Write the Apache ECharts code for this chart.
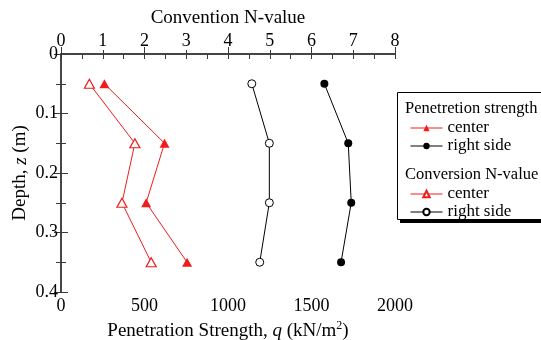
<!DOCTYPE html>
<html>
<head>
<meta charset="utf-8">
<script src="https://cdn.jsdelivr.net/npm/echarts@6/dist/echarts.min.js"></script>
<style>
  html, body { margin: 0; padding: 0; background: #fff; }
  #chart { width: 541px; height: 340px; }
</style>
</head>
<body>
<div id="chart"></div>
<script>
// Depth of each measurement (m)
const depths = [0.05, 0.15, 0.25, 0.35];

// Penetration strength q (kN/m2), bottom axis
const strengthCenter = [260, 620, 510, 755];
const strengthRight = [1577, 1720, 1738, 1677];

// Converted N-value, top axis
const nValueCenter = [0.68, 1.77, 1.46, 2.16];
const nValueRight = [4.57, 4.99, 4.99, 4.76];

// Axis ticks
const depthTicks = [0, 0.1, 0.2, 0.3, 0.4];
const strengthTicks = [0, 500, 1000, 1500, 2000];
const nTicks = [0, 1, 2, 3, 4, 5, 6, 7, 8];

const RED = '#f01c1c';
const FONT = '"Liberation Serif", "Times New Roman", serif';

function pairs(xs) {
  return xs.map((x, i) => [x, depths[i]]);
}

const chart = echarts.init(document.getElementById('chart'), null, { renderer: 'canvas' });

const axisLine = { show: true, lineStyle: { color: '#3a3a3a', width: 1.5 } };
const labelStyle = { color: '#000', fontFamily: FONT, fontSize: 18 };
const plain = v => String(Math.round(v * 100) / 100);

const legendBase = {
  orient: 'vertical', left: 405,
  itemWidth: 32, itemHeight: 8, itemGap: 0,
  formatter: name => name.slice(3),
  textStyle: { fontFamily: FONT, fontSize: 17, color: '#000', lineHeight: 18 },
  lineStyle: { width: 1 },
  selectedMode: false
};

const option = {
  backgroundColor: '#fff',
  animation: false,
  grid: { left: 61, right: 146, top: 54, bottom: 48, containLabel: false, outerBoundsMode: 'none' },
  xAxis: [
    {
      type: 'value', position: 'bottom',
      min: strengthTicks[0], max: strengthTicks[strengthTicks.length - 1], interval: 500,
      axisLine: axisLine,
      axisTick: { show: true, inside: true, length: 7, lineStyle: { color: '#3a3a3a' } },
      minorTick: { show: true, splitNumber: 2, length: 4, lineStyle: { color: '#3a3a3a' } },
      splitLine: { show: false },
      axisLabel: Object.assign({ margin: 5, formatter: plain }, labelStyle),
      name: '{a|Penetration Strength, }{i|q}{a| (kN/m}{s|2}{a|)}',
      nameLocation: 'middle', nameGap: 27,
      nameTextStyle: {
        rich: {
          a: { fontFamily: FONT, fontSize: 19, color: '#000', lineHeight: 22 },
          i: { fontFamily: FONT, fontSize: 19, color: '#000', fontStyle: 'italic', lineHeight: 22 },
          s: { fontFamily: FONT, fontSize: 12, color: '#000', lineHeight: 12, verticalAlign: 'top' }
        }
      }
    },
    {
      type: 'value', position: 'top',
      min: nTicks[0], max: nTicks[nTicks.length - 1], interval: 1,
      axisLine: axisLine,
      axisTick: { show: true, inside: true, length: 5, lineStyle: { color: '#3a3a3a' } },
      minorTick: { show: true, splitNumber: 2, length: 5, lineStyle: { color: '#3a3a3a' } },
      splitLine: { show: false },
      axisLabel: Object.assign({ margin: 4, formatter: plain }, labelStyle),
      name: 'Convention N-value',
      nameLocation: 'middle', nameGap: 23,
      nameTextStyle: { fontFamily: FONT, fontSize: 19, color: '#000' }
    }
  ],
  yAxis: [
    {
      type: 'value', inverse: true, position: 'left',
      min: depthTicks[0], max: depthTicks[depthTicks.length - 1], interval: 0.1,
      axisLine: axisLine,
      axisTick: { show: true, inside: true, length: 7, lineStyle: { color: '#3a3a3a' } },
      minorTick: { show: true, splitNumber: 2, length: 5, lineStyle: { color: '#3a3a3a' } },
      splitLine: { show: false },
      axisLabel: Object.assign({ margin: 3, formatter: plain }, labelStyle),
      name: '{a|Depth, }{i|z}{a| (m)}',
      nameLocation: 'middle', nameGap: 31, nameRotate: 90, nameMoveOverlap: false,
      nameTextStyle: {
        rich: {
          a: { fontFamily: FONT, fontSize: 19, color: '#000' },
          i: { fontFamily: FONT, fontSize: 19, color: '#000', fontStyle: 'italic' }
        }
      }
    },
    {
      type: 'value', inverse: true, position: 'right',
      min: depthTicks[0], max: depthTicks[depthTicks.length - 1], interval: 0.1,
      axisLine: axisLine,
      axisTick: { show: true, inside: true, length: 7, lineStyle: { color: '#3a3a3a' } },
      minorTick: { show: true, splitNumber: 2, length: 5, lineStyle: { color: '#3a3a3a' } },
      splitLine: { show: false },
      axisLabel: { show: false }
    }
  ],
  legend: [
    Object.assign({}, legendBase, { top: 114, data: ['PS center', 'PS right side'] }),
    Object.assign({}, legendBase, { top: 180, data: ['CN center', 'CN right side'] })
  ],
  graphic: [
    {
      type: 'rect', z: -1, silent: true,
      shape: { x: 400, y: 95, width: 160, height: 128 },
      style: { fill: '#000' }
    },
    {
      type: 'rect', z: 0, silent: true,
      shape: { x: 397.5, y: 92.5, width: 160, height: 127 },
      style: { fill: '#fff', stroke: '#000', lineWidth: 1 }
    },
    {
      type: 'text', left: 405, top: 100, silent: true, z: 1,
      style: { text: 'Penetretion strength', font: '16.5px ' + FONT, fill: '#000' }
    },
    {
      type: 'text', left: 405, top: 166, silent: true, z: 1,
      style: { text: 'Conversion N-value', font: '16.5px ' + FONT, fill: '#000' }
    }
  ],
  series: [
    {
      name: 'PS center', type: 'line', xAxisIndex: 0, yAxisIndex: 0,
      data: pairs(strengthCenter),
      symbol: 'triangle', symbolSize: [10, 9],
      itemStyle: { color: RED },
      lineStyle: { color: RED, width: 1 }
    },
    {
      name: 'PS right side', type: 'line', xAxisIndex: 0, yAxisIndex: 0,
      data: pairs(strengthRight),
      symbol: 'circle', symbolSize: 8,
      itemStyle: { color: '#000' },
      lineStyle: { color: '#000', width: 1 }
    },
    {
      name: 'CN center', type: 'line', xAxisIndex: 1, yAxisIndex: 0,
      data: pairs(nValueCenter),
      symbol: 'triangle', symbolSize: [10, 9],
      itemStyle: { color: '#fff', borderColor: RED, borderWidth: 1.2 },
      lineStyle: { color: RED, width: 1 }
    },
    {
      name: 'CN right side', type: 'line', xAxisIndex: 1, yAxisIndex: 0,
      data: pairs(nValueRight),
      symbol: 'circle', symbolSize: 8,
      itemStyle: { color: '#fff', borderColor: '#000', borderWidth: 1 },
      lineStyle: { color: '#000', width: 1 }
    }
  ]
};

chart.setOption(option);
</script>
</body>
</html>
